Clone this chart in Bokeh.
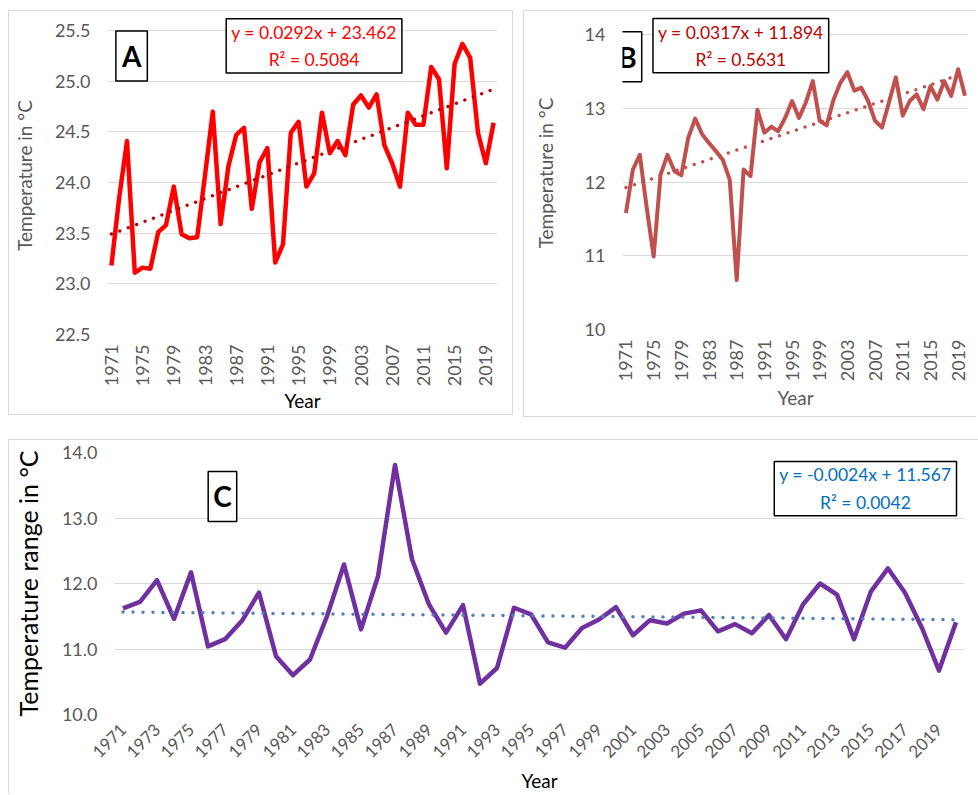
import math
from bokeh.plotting import figure
from bokeh.models import Label, FixedTicker, Spacer, NumeralTickFormatter, Range1d
from bokeh.layouts import row, column
from bokeh.embed import file_html
from bokeh.resources import INLINE

# ---------------- data ----------------
years = list(range(1971, 2021))

temp_a = [23.18, 23.85, 24.41, 23.11, 23.16, 23.15, 23.51, 23.58, 23.96, 23.49,
          23.45, 23.46, 24.07, 24.70, 23.59, 24.16, 24.47, 24.54, 23.74, 24.20,
          24.34, 23.21, 23.39, 24.49, 24.60, 23.96, 24.09, 24.69, 24.29, 24.41,
          24.27, 24.77, 24.86, 24.74, 24.87, 24.37, 24.19, 23.96, 24.69, 24.57,
          24.57, 25.14, 25.02, 24.14, 25.17, 25.37, 25.23, 24.49, 24.19, 24.59]

temp_b = [11.58, 12.17, 12.37, 11.65, 10.99, 12.10, 12.37, 12.15, 12.09, 12.60,
          12.86, 12.65, 12.53, 12.42, 12.30, 12.03, 10.67, 12.17, 12.08, 12.98,
          12.67, 12.75, 12.69, 12.87, 13.10, 12.87, 13.08, 13.37, 12.83, 12.77,
          13.12, 13.35, 13.49, 13.24, 13.28, 13.10, 12.83, 12.74, 13.08, 13.42,
          12.90, 13.10, 13.19, 12.99, 13.30, 13.12, 13.37, 13.17, 13.53, 13.17]

range_c = [11.62, 11.72, 12.05, 11.46, 12.17, 11.04, 11.15, 11.43, 11.86, 10.89,
           10.60, 10.84, 11.50, 12.29, 11.30, 12.11, 13.81, 12.37, 11.68, 11.25,
           11.67, 10.47, 10.71, 11.63, 11.53, 11.10, 11.02, 11.32, 11.45, 11.64,
           11.21, 11.44, 11.39, 11.54, 11.59, 11.27, 11.38, 11.24, 11.52, 11.15,
           11.68, 12.00, 11.83, 11.15, 11.88, 12.23, 11.86, 11.32, 10.67, 11.41]

# trendline equations shown on the chart (x = 1..50)
trend_a_slope, trend_a_icpt = 0.0292, 23.462
trend_b_slope, trend_b_icpt = 0.0317, 11.894
trend_c_slope, trend_c_icpt = -0.0024, 11.567

eq_a = "y = 0.0292x + 23.462\nR² = 0.5084"
eq_b = "y = 0.0317x + 11.894\nR² = 0.5631"
eq_c = "y = -0.0024x + 11.567\nR² = 0.0042"

yticks_a = [22.5, 23.0, 23.5, 24.0, 24.5, 25.0, 25.5]
yticks_b = [10, 11, 12, 13, 14]
yticks_c = [10.0, 11.0, 12.0, 13.0, 14.0]
xticks_ab = list(range(1971, 2021, 4))
xticks_c = list(range(1971, 2021, 2))

FONT = "Lato"
GRID = "#D9D9D9"
TICK = "#595959"


def trend(slope, icpt):
    return [icpt + slope * (i + 1) for i in range(len(years))]


def make_fig(fw, fh, yr, borders, yticks, yfmt, xticks, xorient, ylabel,
             ycol, xcol, styles, xstand, ylab_size, xtick_size, ylab_stand):
    p = figure(frame_width=fw, frame_height=fh, output_backend="svg",
               toolbar_location=None, title=None,
               x_range=Range1d(1970.5, 2020.5), y_range=Range1d(*yr),
               min_border_left=borders[0], min_border_right=borders[1],
               min_border_top=borders[2], min_border_bottom=borders[3])
    p.outline_line_color = None
    p.background_fill_color = "white"
    p.border_fill_color = "white"
    p.xgrid.visible = False
    p.ygrid.grid_line_color = GRID
    p.ygrid.grid_line_width = 1
    p.styles = styles
    for ax in (p.xaxis[0], p.yaxis[0]):
        ax.axis_line_color = None
        ax.major_tick_line_color = None
        ax.minor_tick_line_color = None
        ax.major_tick_out = 0
        ax.major_tick_in = 0
        ax.minor_tick_out = 0
        ax.minor_tick_in = 0
        ax.major_label_text_font = FONT
        ax.major_label_text_font_size = "18px"
        ax.major_label_text_color = TICK
        ax.axis_label_text_font = FONT
        ax.axis_label_text_font_size = "19px"
        ax.axis_label_text_font_style = "normal"
    p.yaxis.ticker = FixedTicker(ticks=yticks)
    p.yaxis.formatter = NumeralTickFormatter(format=yfmt)
    p.yaxis.axis_label = ylabel
    p.yaxis.axis_label_text_color = ycol
    p.yaxis.axis_label_text_font_size = ylab_size
    p.yaxis.major_label_standoff = 17
    p.yaxis.axis_label_standoff = ylab_stand
    p.xaxis.ticker = FixedTicker(ticks=xticks)
    p.xaxis.formatter = NumeralTickFormatter(format="0")
    p.xaxis.major_label_orientation = xorient
    p.xaxis.major_label_text_font_size = xtick_size
    p.xaxis.axis_label = "Year"
    p.xaxis.axis_label_text_color = xcol
    p.xaxis.major_label_standoff = xstand[0]
    p.xaxis.axis_label_standoff = xstand[1]
    return p


def add_box(p, x, y, text, color, size, bold, pad, lh=1.2):
    lab = Label(x=x, y=y, text=text, anchor="center", text_align="center",
                text_baseline="middle", text_color=color,
                text_font=FONT, text_font_size=size,
                text_font_style="bold" if bold else "normal",
                text_line_height=lh,
                background_fill_color="white", border_line_color="black",
                border_line_width=1.5, padding=pad)
    p.add_layout(lab)


# ---------------- panel A ----------------
pA = make_fig(388, 316, (22.5, 25.639), (98, 17, 5, 82), yticks_a, "0.0",
              xticks_ab, math.pi / 2, "Temperature in °C", TICK, "#000000",
              {"border": "1px solid #D9D9D9"}, (10, 0), "19px", "18px", 16)
pA.line(years, temp_a, line_color="#FF0000", line_width=4.5, line_join="round")
pA.line(years, trend(trend_a_slope, trend_a_icpt), line_color="#C00000",
        line_width=3.5, line_dash="0 9", line_cap="round")
add_box(pA, 1973.59, 25.25, "A", "#000000", "28px", True, (6, 6, 8, 8))
add_box(pA, 1996.98, 25.35, eq_a, "#FF0000", "17.5px", False, (5, 5, 3, 3), 1.3)

# ---------------- panel B ----------------
pB = make_fig(345, 311, (10, 14.246), (98, 9, 3, 91), yticks_b, "0",
              xticks_ab, math.pi / 2, "Temperature in °C", TICK, TICK,
              {"border": "1px solid #D9D9D9", "border-right": "none"},
              (10, 2), "19px", "18px", 25)
pB.line(years, temp_b, line_color="#C0504D", line_width=4, line_join="round")
pB.line(years, trend(trend_b_slope, trend_b_icpt), line_color="#C0504D",
        line_width=3.5, line_dash="0 9", line_cap="round")
add_box(pB, 1971.22, 13.70, "B", "#000000", "28px", True, (5, 5, 8, 8))
add_box(pB, 1987.6, 13.85, eq_b, "#C00000", "17.5px", False, (5, 5, 3, 3), 1.3)

# ---------------- panel C ----------------
pC = make_fig(849, 261, (10, 14), (98, 20, 12, 81), yticks_c, "0.0",
              xticks_c, math.pi / 4, "Temperature range in °C", "#000000",
              "#000000",
              {"border": "1px solid #D9D9D9", "border-right": "none",
               "border-bottom": "none"},
              (12, 2), "25px", "17px", 16)
pC.line(years, range_c, line_color="#7030A0", line_width=4.5, line_join="round")
pC.line(years, trend(trend_c_slope, trend_c_icpt), line_color="#4F81BD",
        line_width=3.5, line_dash="0 10", line_cap="round")
add_box(pC, 1976.85, 13.33, "C", "#000000", "28px", True, (5, 5, 8, 8))
add_box(pC, 2014.67, 13.45, eq_c, "#0070C0", "17.5px", False, (5, 5, 3, 3), 1.3)

layout = column(
    Spacer(height=10),
    row(Spacer(width=8), pA, Spacer(width=10), pB),
    Spacer(height=22),
    row(Spacer(width=8), pC),
)

open("out.html", "w").write(file_html(layout, INLINE))
